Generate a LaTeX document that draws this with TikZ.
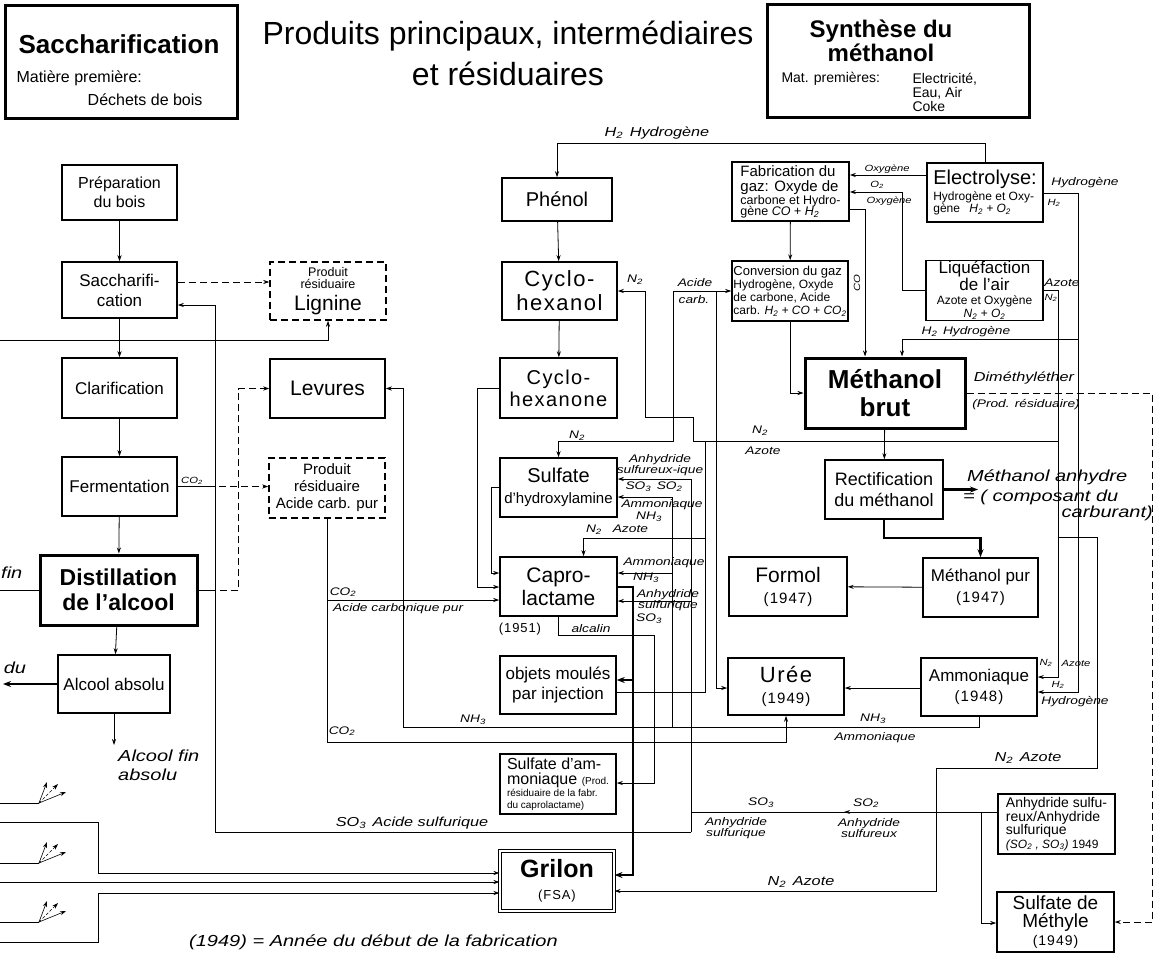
\documentclass[tikz,border=0pt]{standalone}
\usepackage{fontspec}
\setmainfont{Liberation Sans}
\newfontfamily\labfont{Liberation Sans}[FakeStretch=1.25]
\usepackage{tikz}
\usetikzlibrary{arrows.meta, decorations.markings}

\newcommand{\fsz}[2]{\fontsize{#1}{#2}\selectfont}
\newcommand{\spaced}{\addfontfeature{LetterSpace=7}}

\begin{document}
\begin{tikzpicture}[x=1pt, y=-1pt]
		% Define styles for the blocks, labels and arrows
		\tikzstyle{block} = [rectangle, draw, line width=1.5pt, align=center, inner sep=1pt]
		\tikzstyle{heavy} = [block, line width=3pt]
		\tikzstyle{residue} = [block, dash pattern=on 7pt off 4pt]
		\tikzstyle{lab} = [inner sep=0pt, align=center, font=\labfont\itshape\fsz{11}{11}]
		\tikzstyle{smalllab} = [inner sep=0pt, font=\labfont\itshape\fsz{9}{9}]
		\tikzstyle{biglab} = [inner sep=0pt, font=\labfont\itshape\fsz{13}{13}]
		\tikzstyle{hugelab} = [inner sep=0pt, align=left, font=\labfont\itshape\fsz{16}{19}]
		\tikzstyle{line} = [line width=0.8pt]
		\tikzstyle{arrow} = [line, -{Stealth[length=6pt,width=4pt]}]
		\tikzstyle{thickarrow} = [-{Stealth[length=8pt,width=6pt]}, line width=2.2pt]
		\tikzstyle{dasharrow} = [arrow, dash pattern=on 7pt off 4pt]
		\tikzstyle{midarrow} = [line, postaction={decorate}, decoration={markings, mark=at position 0.5 with {\arrow{Stealth[length=6pt,width=4pt]}}}]

		\useasboundingbox (0,0) rectangle (1155,960);

		% Define the headers
		\node[heavy, minimum width=232pt, minimum height=113pt] (hdrsac) at (121,62) {};
		\node[font=\bfseries\fsz{26}{26}] (hdrsacname) at (119,44) {Saccharification};
		\node[anchor=west, font=\fsz{16}{16}] (hdrsacmat) at (13,78) {Matière première:};
		\node[anchor=east, font=\fsz{16}{16}] (hdrsacdech) at (206,100) {Déchets de bois};
		\node[font=\fsz{32}{32}] (title) at (508,36) {Produits principaux, intermédiaires};
		\node[font=\fsz{32}{32}] (titleb) at (508,74) {et résiduaires};
		\node[heavy, minimum width=262pt, minimum height=113pt] (hdrmeth) at (898,61) {};
		\node[align=center, font=\bfseries\fsz{24}{24}] (hdrmethname) at (881,41) {Synthèse du\\méthanol};
		\node[anchor=west, font=\fsz{14}{14}] (hdrmethmat) at (778,79) {Mat. premières:};
		\node[anchor=north west, align=left, font=\fsz{14}{14}] (hdrmethlist) at (909,70) {Electricité,\\Eau, Air\\Coke};

		% Define the nodes (blocks): wood
		\node[block, minimum width=115pt, minimum height=55pt, font=\fsz{16}{19}] (prep) at (119.5,192.5) {Préparation\\du bois};
		\node[block, minimum width=115pt, minimum height=56pt, font=\fsz{17}{20}] (sacc) at (119.5,290) {Saccharifi-\\cation};
		\node[residue, minimum width=116pt, minimum height=58pt, font=\fsz{12.5}{12}] (lignine) at (328,291) {Produit\\résiduaire\\[6pt]\fsz{21}{21}Lignine};
		\node[block, minimum width=115pt, minimum height=60pt, font=\fsz{17}{20}] (clar) at (119.5,388) {Clarification};
		\node[block, minimum width=115pt, minimum height=59pt, font=\fsz{17}{20}] (ferm) at (119.5,486.5) {Fermentation};
		\node[heavy, minimum width=157pt, minimum height=70pt, font=\bfseries\fsz{23}{25}] (dist) at (118.5,590) {Distillation\\de l'alcool};
		\node[block, minimum width=112pt, minimum height=58pt, font=\fsz{17}{20}] (alcabs) at (114,684) {Alcool absolu};
		\node[block, minimum width=115pt, minimum height=59pt, font=\fsz{21}{24}] (levures) at (327.5,388.5) {Levures};
		\node[residue, minimum width=116pt, minimum height=60pt, font=\fsz{15}{17}] (acidecorb) at (327,488) {Produit\\résiduaire\\Acide carb. pur};

		% Define the nodes (blocks): caprolactam line
		\node[block, minimum width=110pt, minimum height=43pt, font=\fsz{20}{22}] (phenol) at (557,199.5) {Phénol};
		\node[block, minimum width=115pt, minimum height=58pt, font=\fsz{22}{24}\spaced] (cyclol) at (559.5,291) {Cyclo-\\hexanol};
		\node[block, minimum width=117pt, minimum height=60pt, font=\fsz{20}{22}\spaced] (cyclone) at (558.5,388) {Cyclo-\\hexanone};
		\node[block, minimum width=117pt, minimum height=59pt, font=\fsz{20}{21}] (hydrox) at (558.5,487.5) {Sulfate\\\fsz{15}{15}d'hydroxylamine};
		\node[block, minimum width=117pt, minimum height=59pt, font=\fsz{21}{23}] (capro) at (558.5,586.5) {Capro-\\lactame};
		\node[block, minimum width=116pt, minimum height=58pt, font=\fsz{17}{20}] (objets) at (558,685) {objets moulés\\par injection};
		\node[block, minimum width=116pt, minimum height=60pt, align=left, font=\fsz{16}{15}] (sulfam) at (558,784) {Sulfate d'am-\\moniaque {\fsz{10}{10}(Prod.}\\[-3pt]\fsz{10}{10}résiduaire de la fabr.\\[-3pt]\fsz{10}{10}du caprolactame)};
		\node[block, double, double distance=2.5pt, line width=1pt, minimum width=114pt, minimum height=60pt, font=\fsz{25}{22}] (grilon) at (557,881) {\bfseries Grilon\\\fsz{13}{13}\spaced(FSA)};

		% Define the nodes (blocks): methanol line
		\node[block, minimum width=117pt, minimum height=59pt, align=left, font=\fsz{15}{15}] (fabgaz) at (790.5,191.5) {Fabrication du\\gaz: Oxyde de\\[-2pt]\fsz{12.5}{12}carbone et Hydro-\\[-4pt]\fsz{12.5}{12}gène \textit{CO + H\textsubscript{2}}};
		\node[block, minimum width=116pt, minimum height=60pt, align=left, font=\fsz{12}{13}] (convgaz) at (790,291) {\fsz{13}{13}Conversion du gaz\\Hydrogène, Oxyde\\de carbone, Acide\\carb. \textit{H\textsubscript{2} + CO + CO\textsubscript{2}}};
		\node[block, minimum width=116pt, minimum height=59pt, align=left, font=\fsz{12}{12}] (electro) at (985,192.5) {\fsz{20}{20}Electrolyse:\\[3pt]Hydrogène et Oxy-\\gène \enspace\textit{H\textsubscript{2} + O\textsubscript{2}}};
		\node[block, minimum width=117pt, minimum height=57pt, font=\fsz{17}{15}] (liquef) at (984.5,290.5) {Liquéfaction\\de l'air\\[-1pt]\fsz{12}{12}Azote et Oxygène\\[-2pt]\fsz{12}{12}\textit{N\textsubscript{2} + O\textsubscript{2}}};
		\node[heavy, minimum width=160pt, minimum height=70pt, font=\bfseries\fsz{26}{28}] (methbrut) at (885,393) {Méthanol\\brut};
		\node[block, minimum width=118pt, minimum height=59pt, font=\fsz{18}{21}] (rectif) at (884,489.5) {Rectification\\du méthanol};
		\node[block, minimum width=118pt, minimum height=59pt, font=\fsz{21}{21}] (formol) at (788,586.5) {Formol\\\fsz{15}{15}\spaced(1947)};
		\node[block, minimum width=115pt, minimum height=59pt, font=\fsz{17}{21}] (methpur) at (980.5,587.5) {Méthanol pur\\\fsz{15}{15}\spaced(1947)};
		\node[block, minimum width=116pt, minimum height=57pt, font=\fsz{22}{21}\spaced] (uree) at (786,686.5) {Urée\\\fsz{15}{15}\spaced(1949)};
		\node[block, minimum width=116pt, minimum height=58pt, font=\fsz{17}{20}] (ammon) at (979,687) {Ammoniaque\\\fsz{15}{15}\spaced(1948)};
		\node[block, minimum width=117pt, minimum height=60pt, align=left, font=\fsz{14}{13.5}] (anhyd) at (1056.5,824) {Anhydride sulfu-\\reux/Anhydride\\sulfurique\\\fsz{12}{13}\textit{(SO\textsubscript{2} , SO\textsubscript{3})} 1949};
		\node[block, minimum width=117pt, minimum height=60pt, font=\fsz{19}{18}] (sulfmeth) at (1055.5,922) {Sulfate de\\Méthyle\\\fsz{14}{14}\spaced(1949)};

		% Draw arrows between the blocks: wood
		\draw [arrow] (prep) -- (sacc);
		\draw [arrow] (sacc) -- (clar);
		\draw [arrow] (clar) -- (ferm);
		\draw [arrow] (ferm) -- (dist);
		\draw [arrow] (dist) -- (alcabs);
		\coordinate (alcfin) at (114,745);
		\draw [arrow] (alcabs) -- (alcfin);
		\coordinate (alcout) at (3,684);
		\draw [thickarrow] (alcabs) -- (alcout);
		\coordinate (distin) at (0,590);
		\draw [line] (distin) -- (dist);
		\draw [dasharrow] (sacc.east |- 0,282) -- (lignine.west |- 0,282);
		\coordinate (ligin) at (0,340);
		\draw [arrow] (ligin) -| (lignine.south);
		\draw [line] (ferm.east) -- ++(30,0);
		\draw [dasharrow] ([xshift=30pt]ferm.east) -- (acidecorb.west |- ferm.east);
		\draw [line] (dist.east) -- ++(10,0);
		\draw [dasharrow] ([xshift=10pt]dist.east) -- ++(30,0) |- (levures.west);
		\coordinate (so3base) at (691,832);
		\draw [arrow] (so3base) -- (215,832) |- (sacc.east |- 0,305);

		% carbonic acid and ammonia
		\draw [arrow] (acidecorb.south) -- (acidecorb.south |- 0,742) -| (uree.south);
		\draw [arrow] (acidecorb.south |- 0,600) -- (capro.west |- 0,600);
		\draw [arrow] (ammon.south) -- (ammon.south |- 0,727) -- (403,727) |- (levures.east);
		\coordinate (nh3a) at (672,727);
		\draw [arrow] (nh3a) |- (capro.east |- 0,573);
		\draw [arrow] (nh3a) |- (hydrox.east |- 0,497);

		% caprolactam line
		\draw [arrow] (phenol) -- (cyclol);
		\draw [arrow] (cyclol) -- (cyclone);
		\draw [arrow] (cyclone.west) -- ++(-22,0) |- (capro.west |- 0,587);
		\draw [arrow] (hydrox.west) -- ++(-8,0) |- (capro.west |- 0,573);
		\draw [arrow] (so3base) |- (hydrox.east |- 0,479);
		\draw [arrow] (so3base) |- (capro.east |- 0,601);
		\draw [thickarrow] (capro.east |- 0,587) -- (633,587) |- (grilon.east |- 0,875);
		\draw [thickarrow] (633,680) -- (objets.east |- 0,680);
		\draw [arrow] (capro.south) |- (654,635) |- (sulfam.east |- 0,783);

		% methanol line
		\draw [arrow] (electro.north) |- (phenol.north |- 0,143) -- (phenol.north);
		\draw [arrow] (fabgaz) -- (convgaz);
		\draw [arrow] (convgaz.south) |- (methbrut.west);
		\draw [arrow] (electro.west |- 0,175) -- (fabgaz.east |- 0,175);
		\draw [arrow] (liquef.west) -- ++(-23,0) |- (fabgaz.east |- 0,192);
		\draw [arrow] (fabgaz.east |- 0,209) -| ([xshift=-20pt]methbrut.north);
		\coordinate (h2split) at (1078,339);
		\draw [arrow] (h2split) -| ([xshift=17pt]methbrut.north);
		\draw [arrow] (electro.east |- 0,193) -- (1078,193) |- (ammon.east |- 0,692);
		\draw [arrow] (liquef.east) -- (1058,290.5) |- (ammon.east |- 0,677);
		\coordinate (n2split) at (1058,441);
		\draw [arrow] (n2split) -- (693,441) -- (693,417) -- (645,417) |- (cyclol.east);
		\coordinate (n2grilon) at (1058,537);
		\draw [arrow] (n2grilon) -- (1097,537) |- (936,768) |- (grilon.east |- 0,891);
		\coordinate (n2capro) at (705,441);
		\draw [line] (n2capro) |- (objets.east |- 0,692);
		\draw [arrow] (705,538) -| ([xshift=25pt]capro.north);
		\coordinate (acarb) at (673,291);
		\draw [arrow] (acarb) -- (convgaz.west);
		\draw [arrow] (acarb) |- (hydrox.north |- 0,441) -- (hydrox.north);
		\coordinate (acarbb) at (716,291);
		\draw [arrow] (acarbb) |- (uree.west |- 0,688);
		\draw [midarrow] (anhyd.west |- 0,812) -- (691,812);
		\draw [arrow] (981,812) |- (sulfmeth.west |- 0,923);
		\draw [arrow] (ammon.west |- 0,688) -- (uree.east |- 0,688);
		\draw [arrow] (methbrut) -- (rectif);
		\coordinate (anhydre) at (978,489.5);
		\draw [thickarrow] (rectif) -- (anhydre);
		\draw [thickarrow] (rectif.south) -- ++(0,18) -| (methpur.north);
		\draw [arrow] (methpur) -- (formol);
		\draw [dasharrow] (methbrut.east) -- (1152,393) |- (sulfmeth.east);

		% feeds from the left edge into Grilon
		\coordinate (feeda) at (0,822);
		\coordinate (feedb) at (0,882);
		\coordinate (feedc) at (0,942);
		\draw [arrow] (feeda) -- (98,822) |- (grilon.west |- 0,873);
		\draw [arrow] (feedb) -- (grilon.west |- 0,882);
		\draw [arrow] (feedc) -- (98,942) |- (grilon.west |- 0,893);
		\foreach \y in {803,863,922} {
			\draw [line] (0,\y) -- (39,\y);
			\draw [arrow, line width=0.6pt] (39,\y) -- ++(8,-21);
			\draw [arrow, line width=0.6pt, densely dashed] (39,\y) -- ++(19,-19);
			\draw [arrow, line width=0.6pt] (39,\y) -- ++(27,-11);
		}

		% Labels on the connectors
		\node[biglab] (lbhtop) at (657,133) {H\textsubscript{2}\enspace Hydrogène};
		\node[smalllab] (lboxa) at (887,169) {Oxygène};
		\node[smalllab] (lbotwo) at (877,185) {O\textsubscript{2}};
		\node[smalllab] (lboxb) at (889,201) {Oxygène};
		\node[smalllab, rotate=90] (lbco) at (857,283) {CO};
		\node[lab] (lbhel) at (1085,183) {Hydrogène};
		\node[smalllab] (lbhels) at (1054,203) {H\textsubscript{2}};
		\node[lab] (lbazliq) at (1062,283) {Azote};
		\node[smalllab] (lbnliq) at (1051,298) {N\textsubscript{2}};
		\node[lab] (lbacide) at (695,283) {Acide};
		\node[lab] (lbcarb) at (694,300) {carb.};
		\node[lab] (lbncyc) at (635,280) {N\textsubscript{2}};
		\node[lab] (lbhmeth) at (966,332) {H\textsubscript{2}\enspace Hydrogène};
		\node[biglab] (lbdme) at (1024,378) {Diméthyléther};
		\node[lab] (lbdmeres) at (1026,405) {(Prod. résiduaire)};
		\node[lab] (lbnmid) at (760,431) {N\textsubscript{2}};
		\node[lab] (lbazmid) at (763,451) {Azote};
		\node[lab] (lbnhyd) at (577,436) {N\textsubscript{2}};
		\node[lab] (lbanhhyd) at (660,465) {Anhydride\\sulfureux-ique};
		\node[lab] (lbsohyd) at (654,487) {SO\textsubscript{3}\enspace SO\textsubscript{2}};
		\node[lab] (lbamhyd) at (662,505) {Ammoniaque};
		\node[lab] (lbnhhyd) at (649,517) {NH\textsubscript{3}};
		\node[lab] (lbazcap) at (617,530) {N\textsubscript{2}\quad Azote};
		\node[lab] (lbamcap) at (664,563) {Ammoniaque};
		\node[lab] (lbnhcap) at (646,578) {NH\textsubscript{3}};
		\node[lab] (lbanhcap) at (668,600) {Anhydride\\sulfurique};
		\node[lab] (lbsocap) at (649,619) {SO\textsubscript{3}};
		\node[font=\fsz{13}{13}\spaced] (lbyear) at (520,629) {(1951)};
		\node[lab] (lbalc) at (591,629) {alcalin};
		\node[smalllab] (lbcoferm) at (192,481) {CO\textsubscript{2}};
		\node[lab] (lbcoa) at (343,592) {CO\textsubscript{2}};
		\node[lab, anchor=west] (lbacpur) at (333,609) {Acide carbonique pur};
		\node[lab] (lbnha) at (473,720) {NH\textsubscript{3}};
		\node[lab] (lbcob) at (342,731) {CO\textsubscript{2}};
		\node[lab] (lbnhb) at (873,719) {NH\textsubscript{3}};
		\node[lab] (lbamb) at (875,738) {Ammoniaque};
		\node[biglab] (lbazgr) at (1028,758) {N\textsubscript{2}\enspace Azote};
		\node[lab] (lbsothree) at (761,803) {SO\textsubscript{3}};
		\node[lab] (lbanhthree) at (736,828) {Anhydride\\sulfurique};
		\node[lab] (lbsotwo) at (866,803) {SO\textsubscript{2}};
		\node[lab] (lbanhtwo) at (869,828) {Anhydride\\sulfureux};
		\node[biglab] (lbazgrb) at (801,882) {N\textsubscript{2}\enspace Azote};
		\node[biglab] (lbsosac) at (412,823) {SO\textsubscript{3}\enspace Acide sulfurique};
		\node[smalllab] (lbnam) at (1046,663) {N\textsubscript{2}};
		\node[smalllab] (lbazam) at (1076,663) {Azote};
		\node[smalllab] (lbham) at (1058,685) {H\textsubscript{2}};
		\node[lab] (lbhyam) at (1075,702) {Hydrogène};
		\node[hugelab, anchor=west] (lbanhydre) at (967,477) {Méthanol anhydre};
		\node[hugelab, anchor=west] (lbcompo) at (963,497) {= ( composant du};
		\node[hugelab, anchor=east] (lbcarbu) at (1153,513) {carburant)};
		\node[hugelab, anchor=north west] (lbalcfin) at (118,750) {Alcool fin\\absolu};
		\node[hugelab] (lbdu) at (15,668) {du};
		\node[hugelab, anchor=west] (lbfin) at (1,573) {fin};
		\node[hugelab, anchor=west] (lbnote) at (189,942) {(1949) = Année du début de la fabrication};
	\end{tikzpicture}
\end{document}
